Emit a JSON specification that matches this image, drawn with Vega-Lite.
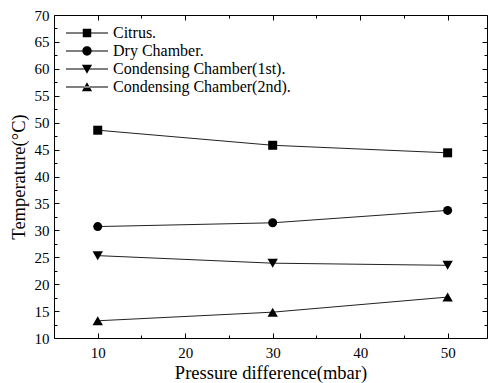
{
  "$schema": "https://vega.github.io/schema/vega-lite/v6.json",
  "autosize": {"type": "none"},
  "padding": {"left": 54, "top": 15, "right": 4, "bottom": 45},
  "width": 433,
  "height": 323,
  "config": {
    "font": "Liberation Serif",
    "view": {"stroke": "#000", "strokeWidth": 1},
    "axis": {
      "grid": false,
      "domain": false,
      "tickColor": "#000",
      "labelColor": "#000",
      "titleColor": "#000",
      "labelFont": "Liberation Serif",
      "titleFont": "Liberation Serif",
      "labelFontSize": 15,
      "titleFontSize": 18.5,
      "titleFontWeight": "normal"
    },
    "legend": {"labelFont": "Liberation Serif"}
  },
  "data": {
    "values": [
      {"Pressure": 10, "Temperature": 48.6, "Series": "Citrus."},
      {"Pressure": 30, "Temperature": 45.8, "Series": "Citrus."},
      {"Pressure": 50, "Temperature": 44.4, "Series": "Citrus."},
      {"Pressure": 10, "Temperature": 30.7, "Series": "Dry Chamber."},
      {"Pressure": 30, "Temperature": 31.4, "Series": "Dry Chamber."},
      {"Pressure": 50, "Temperature": 33.7, "Series": "Dry Chamber."},
      {"Pressure": 10, "Temperature": 25.3, "Series": "Condensing Chamber(1st)."},
      {"Pressure": 30, "Temperature": 23.9, "Series": "Condensing Chamber(1st)."},
      {"Pressure": 50, "Temperature": 23.5, "Series": "Condensing Chamber(1st)."},
      {"Pressure": 10, "Temperature": 13.2, "Series": "Condensing Chamber(2nd)."},
      {"Pressure": 30, "Temperature": 14.8, "Series": "Condensing Chamber(2nd)."},
      {"Pressure": 50, "Temperature": 17.6, "Series": "Condensing Chamber(2nd)."}
    ]
  },
  "resolve": {
    "axis": {"x": "independent", "y": "independent"},
    "scale": {"shape": "independent"},
    "legend": {"shape": "independent"}
  },
  "layer": [
    {
      "mark": {"type": "line", "color": "#222", "strokeWidth": 1},
      "encoding": {
        "x": {
          "field": "Pressure", "type": "quantitative",
          "scale": {"domain": [5, 54.5], "nice": false, "zero": false},
          "axis": {
            "orient": "bottom", "values": [10, 20, 30, 40, 50],
            "tickSize": -5, "labelPadding": 12,
            "title": "Pressure difference(mbar)", "titlePadding": 3
          }
        },
        "y": {
          "field": "Temperature", "type": "quantitative",
          "scale": {"domain": [10, 70], "nice": false, "zero": false},
          "axis": {
            "orient": "left",
            "values": [10, 15, 20, 25, 30, 35, 40, 45, 50, 55, 60, 65, 70],
            "tickSize": -5, "labelPadding": 10,
            "title": "Temperature(°C)", "titlePadding": 6
          }
        },
        "detail": {"field": "Series"}
      }
    },
    {
      "mark": {"type": "point", "filled": true, "color": "#000", "opacity": 1, "size": 81},
      "encoding": {
        "x": {"field": "Pressure", "type": "quantitative", "axis": null},
        "y": {"field": "Temperature", "type": "quantitative", "axis": null},
        "shape": {
          "field": "Series", "type": "nominal",
          "scale": {
            "domain": ["Citrus.", "Dry Chamber.", "Condensing Chamber(1st).", "Condensing Chamber(2nd)."],
            "range": ["square", "circle", "M-1.15,-1H1.15L0,1Z", "M-1.15,1H1.15L0,-1Z"]
          },
          "legend": null
        }
      }
    },
    {
      "transform": [{"filter": "datum.Pressure > 1000"}],
      "mark": {"type": "point", "filled": true, "color": "#000", "opacity": 1},
      "encoding": {
        "shape": {
          "field": "Series", "type": "nominal",
          "scale": {
            "domain": ["Citrus.", "Dry Chamber.", "Condensing Chamber(1st).", "Condensing Chamber(2nd)."],
            "range": [
              "M-4.95,-0.12H4.95V0.12H-4.95ZM-1,-1H1V1H-1Z",
              "M-4.95,-0.12H4.95V0.12H-4.95ZM-1.1,0A1.1,1.1,0,1,1,1.1,0A1.1,1.1,0,1,1,-1.1,0Z",
              "M-4.95,-0.12H4.95V0.12H-4.95ZM-1.2,-1H1.2L0,1.1Z",
              "M-4.95,-0.12H4.95V0.12H-4.95ZM-1.2,1H1.2L0,-1.1Z"
            ]
          },
          "legend": {
            "title": null,
            "orient": "none",
            "legendX": 25,
            "legendY": 10,
            "padding": 0,
            "symbolSize": 72,
            "symbolFillColor": "#000",
            "symbolStrokeColor": "#000",
            "symbolStrokeWidth": 0,
            "symbolOpacity": 1,
            "labelOffset": 18,
            "labelFontSize": 16,
            "labelColor": "#000",
            "labelLimit": 300,
            "rowPadding": 2
          }
        }
      }
    },
    {
      "mark": {"type": "point", "opacity": 0},
      "encoding": {
        "x": {
          "field": "Pressure", "type": "quantitative",
          "axis": {"orient": "top", "values": [10, 20, 30, 40, 50], "tickSize": -5, "labels": false, "title": null}
        },
        "y": {
          "field": "Temperature", "type": "quantitative",
          "axis": {"orient": "right", "values": [10, 15, 20, 25, 30, 35, 40, 45, 50, 55, 60, 65, 70], "tickSize": -5, "labels": false, "title": null}
        }
      }
    },
    {
      "mark": {"type": "point", "opacity": 0},
      "encoding": {
        "x": {
          "field": "Pressure", "type": "quantitative",
          "axis": {"orient": "bottom", "values": [15, 25, 35, 45], "tickSize": -3, "labels": false, "title": null}
        },
        "y": {
          "field": "Temperature", "type": "quantitative",
          "axis": {"orient": "left", "values": [12.5, 17.5, 22.5, 27.5, 32.5, 37.5, 42.5, 47.5, 52.5, 57.5, 62.5, 67.5], "tickSize": -3, "labels": false, "title": null}
        }
      }
    },
    {
      "mark": {"type": "point", "opacity": 0},
      "encoding": {
        "x": {
          "field": "Pressure", "type": "quantitative",
          "axis": {"orient": "top", "values": [15, 25, 35, 45], "tickSize": -3, "labels": false, "title": null}
        },
        "y": {
          "field": "Temperature", "type": "quantitative",
          "axis": {"orient": "right", "values": [12.5, 17.5, 22.5, 27.5, 32.5, 37.5, 42.5, 47.5, 52.5, 57.5, 62.5, 67.5], "tickSize": -3, "labels": false, "title": null}
        }
      }
    }
  ]
}
